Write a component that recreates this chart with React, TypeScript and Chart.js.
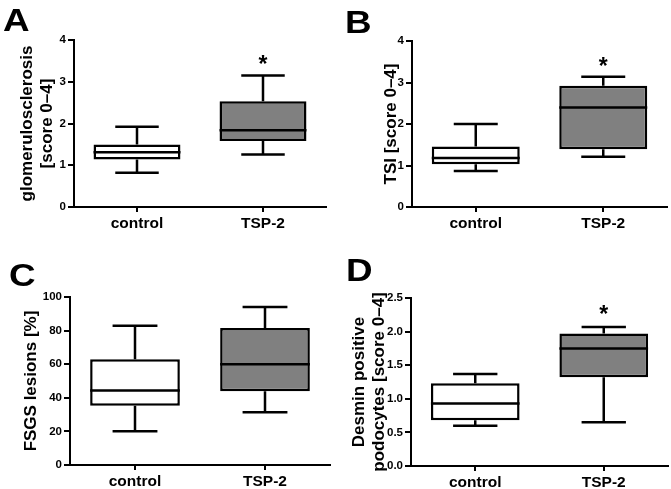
import React, { useEffect, useRef } from 'react';
import { Chart, registerables } from 'chart.js';

Chart.register(...registerables);

// ---- data ----
const categories = ['control', 'TSP-2'];
// [min, q1, median, q3, max]
const glomControl = [0.82, 1.14, 1.31, 1.5, 1.92];
const glomTsp2 = [1.26, 1.58, 1.84, 2.53, 3.15];
const tsiControl = [0.87, 1.03, 1.18, 1.46, 2.0];
const tsiTsp2 = [1.21, 1.39, 2.4, 2.92, 3.14];
const fsgsControl = [20.1, 35.2, 44.3, 63.0, 82.9];
const fsgsTsp2 = [31.4, 43.9, 60.0, 81.5, 94.0];
const desminControl = [0.6, 0.68, 0.93, 1.23, 1.37];
const desminTsp2 = [0.65, 1.32, 1.75, 1.97, 2.07];
// significance star position (value) per category
const glomStar = [null, 3.56];
const tsiStar = [null, 3.52];
const fsgsStar = [null, null];
const desminStar = [null, 2.34];
// y tick labels
const scoreTicks = ['0', '1', '2', '3', '4'];
const percentTicks = ['0', '20', '40', '60', '80', '100'];
const desminTicks = ['0.0', '0.5', '1.0', '1.5', '2.0', '2.5'];

const FONT = "'Liberation Sans', Arial, Helvetica, sans-serif";

type PanelDef = {
  letter: string;
  title: string | string[];
  stats: number[][];
  stars: (number | null)[];
  ticks: string[];
  left: number; top: number; w: number; h: number;
  area: { l: number; r: number; t: number; b: number };
  titlePad: number;
  letterPos: { x: number; y: number };
};

const panels: PanelDef[] = [
  {
    letter: 'A', title: ['glomerulosclerosis', '[score 0–4]'],
    stats: [glomControl, glomTsp2], stars: glomStar, ticks: scoreTicks,
    left: 0, top: 0, w: 335, h: 240,
    area: { l: 74, r: 326, t: 40, b: 207 }, titlePad: 17,
    letterPos: { x: 3, y: 4 },
  },
  {
    letter: 'B', title: 'TSI [score 0–4]',
    stats: [tsiControl, tsiTsp2], stars: tsiStar, ticks: scoreTicks,
    left: 335, top: 0, w: 336, h: 240,
    area: { l: 77, r: 332, t: 41, b: 207 }, titlePad: 46,
    letterPos: { x: 10, y: 6 },
  },
  {
    letter: 'C', title: 'FSGS lesions [%]',
    stats: [fsgsControl, fsgsTsp2], stars: fsgsStar, ticks: percentTicks,
    left: 0, top: 240, w: 335, h: 249,
    area: { l: 70, r: 330, t: 57, b: 225 }, titlePad: 21,
    letterPos: { x: 9, y: 19 },
  },
  {
    letter: 'D', title: ['Desmin positive', 'podocytes [score 0–4]'],
    stats: [desminControl, desminTsp2], stars: desminStar, ticks: desminTicks,
    left: 335, top: 240, w: 336, h: 249,
    area: { l: 76, r: 333, t: 58, b: 226 }, titlePad: 14.5,
    letterPos: { x: 11, y: 14 },
  },
];

const boxPlugin = {
  id: 'boxExtras',
  afterDatasetsDraw(chart: any, _args: any, opts: any) {
    const { ctx } = chart;
    const y = chart.scales.y;
    const meta = chart.getDatasetMeta(0);
    const stats: number[][] = opts.stats;
    const stars: (number | null)[] = opts.stars;
    ctx.save();
    ctx.strokeStyle = '#000';
    ctx.lineWidth = 2.5;
    meta.data.forEach((bar: any, i: number) => {
      const s = stats[i];
      const { x, width } = bar.getProps(['x', 'width'], true);
      const yMin = y.getPixelForValue(s[0]);
      const yQ1 = y.getPixelForValue(s[1]);
      const yMed = y.getPixelForValue(s[2]);
      const yQ3 = y.getPixelForValue(s[3]);
      const yMax = y.getPixelForValue(s[4]);
      const cap = width / 4;
      ctx.beginPath();
      ctx.moveTo(x - width / 2, yMed);
      ctx.lineTo(x + width / 2, yMed);
      ctx.moveTo(x, yQ3);
      ctx.lineTo(x, yMax);
      ctx.moveTo(x - cap, yMax);
      ctx.lineTo(x + cap, yMax);
      ctx.moveTo(x, yQ1);
      ctx.lineTo(x, yMin);
      ctx.moveTo(x - cap, yMin);
      ctx.lineTo(x + cap, yMin);
      ctx.stroke();
      const st = stars[i];
      if (st !== null && st !== undefined) {
        const size = 23;
        ctx.fillStyle = '#000';
        ctx.font = `bold ${size}px ${FONT}`;
        ctx.textAlign = 'center';
        ctx.textBaseline = 'alphabetic';
        ctx.fillText('*', x, y.getPixelForValue(st) + size * 0.575);
      }
    });
    ctx.restore();
  },
};

function Panel({ p }: { p: PanelDef }) {
  const ref = useRef<HTMLCanvasElement>(null);
  useEffect(() => {
    const canvas = ref.current!;
    const vals = p.ticks.map(Number);
    const chart = new Chart(canvas, {
      type: 'bar',
      data: {
        labels: categories,
        datasets: [
          {
            data: p.stats.map((s) => [s[1], s[3]]) as any,
            backgroundColor: ['#ffffff', '#808080'],
            borderColor: '#000000',
            borderWidth: 2.5,
            borderSkipped: false,
            barPercentage: 0.69,
            categoryPercentage: 1,
          },
        ],
      },
      options: {
        responsive: false,
        animation: false,
        devicePixelRatio: 1,
        events: [],
        layout: {
          padding: { left: 0, right: p.w - p.area.r, top: p.area.t, bottom: 0 },
        },
        plugins: {
          legend: { display: false },
          tooltip: { enabled: false },
          boxExtras: { stats: p.stats, stars: p.stars },
        } as any,
        scales: {
          x: {
            offset: true,
            grid: {
              offset: false,
              display: true,
              drawOnChartArea: false,
              drawTicks: true,
              tickLength: 5,
              color: '#000',
              lineWidth: 2,
            },
            border: { display: true, color: '#000', width: 2 },
            ticks: {
              color: '#000',
              padding: 2,
              font: { family: FONT, size: 15.5, weight: 'bold' },
            },
            afterFit: (scale: any) => {
              scale.height = p.h - p.area.b;
            },
          },
          y: {
            min: vals[0],
            max: vals[vals.length - 1],
            grid: {
              display: true,
              drawOnChartArea: false,
              drawTicks: true,
              tickLength: 6,
              color: '#000',
              lineWidth: 2,
            },
            border: { display: true, color: '#000', width: 2 },
            ticks: {
              stepSize: vals[1] - vals[0],
              color: '#000',
              padding: 2,
              font: { family: FONT, size: 11.5, weight: 'bold' },
              callback: (_v: any, i: number) => p.ticks[i],
            },
            title: {
              display: true,
              text: p.title,
              color: '#000',
              padding: { top: p.titlePad, bottom: 0 },
              font: { family: FONT, size: 17, weight: 'bold', lineHeight: 1.18 },
            },
            afterFit: (scale: any) => {
              scale.width = p.area.l;
            },
          },
        },
      } as any,
      plugins: [boxPlugin as any],
    });
    return () => chart.destroy();
  }, [p]);
  return (
    <div style={{ position: 'absolute', left: p.left, top: p.top, width: p.w, height: p.h }}>
      <canvas ref={ref} width={p.w} height={p.h} style={{ display: 'block', width: p.w, height: p.h }} />
      <div
        style={{
          position: 'absolute',
          left: p.letterPos.x,
          top: p.letterPos.y,
          fontFamily: FONT,
          fontWeight: 'bold',
          fontSize: 32,
          lineHeight: '32px',
          color: '#000',
          transform: 'scaleX(1.15)',
          transformOrigin: 'left top',
        }}
      >
        {p.letter}
      </div>
    </div>
  );
}

export default function App() {
  return (
    <div style={{ position: 'absolute', left: 0, top: 0, width: 671, height: 489, background: '#fff', overflow: 'hidden' }}>
      {panels.map((p) => (
        <Panel key={p.letter} p={p} />
      ))}
    </div>
  );
}
